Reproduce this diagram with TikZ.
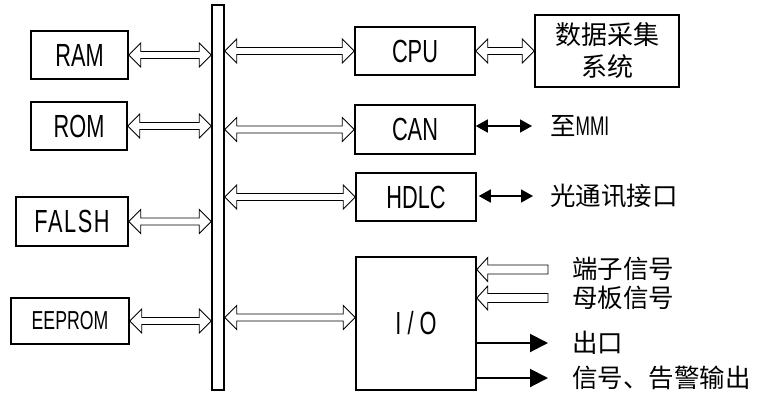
\documentclass[tikz,border=0pt]{standalone}
\usepackage{fontspec}
\setmainfont[FakeStretch=0.68]{Liberation Sans}
\newfontfamily\cjk{Noto Sans CJK SC}
\newfontfamily\latn[FakeStretch=0.64]{Liberation Sans}
\usetikzlibrary{calc,arrows.meta}
\newcommand\hdarrow[2]{\draw[hollow] let \p1=#1, \p2=#2 in
  (\x1,\y1) -- (\x1+12pt,\y1+12pt) -- (\x1+12pt,\y1+3.5pt) -- (\x2-12pt,\y1+3.5pt) -- (\x2-12pt,\y1+12pt)
  -- (\x2,\y1) -- (\x2-12pt,\y1-12pt) -- (\x2-12pt,\y1-3.5pt) -- (\x1+12pt,\y1-3.5pt) -- (\x1+12pt,\y1-12pt) -- cycle;}
\newcommand\hsarrow[2]{\draw[hollow] let \p1=#1, \p2=#2 in
  (\x1,\y1) -- (\x1+11pt,\y1+12pt) -- (\x1+11pt,\y1+4.5pt) -- (\x2,\y1+4.5pt) -- (\x2,\y1-4.5pt)
  -- (\x1+11pt,\y1-4.5pt) -- (\x1+11pt,\y1-12pt) -- cycle;}
\begin{document}
\begin{tikzpicture}[x=1pt,y=-1pt,
  box/.style={draw, line width=1.5pt, inner sep=0pt, font=\fontsize{32}{32}\selectfont},
  hollow/.style={draw, line width=0.9pt, line join=miter, fill=white},
  lbl/.style={anchor=west, inner sep=0pt, font=\cjk\fontsize{25.5}{32}\selectfont},
  smallarr/.style={line width=1.6pt, {Triangle[length=12pt,width=13pt]}-{Triangle[length=12pt,width=13pt]}},
  outarr/.style={line width=2pt, -{Triangle[length=18pt,width=18pt]}}]
\useasboundingbox (0,0) rectangle (757,392);

\node[box, minimum width=97pt, minimum height=48pt] (ram) at (79.5,55) {RAM};
\node[box, minimum width=96pt, minimum height=48pt] (rom) at (79,126) {ROM};
\node[box, minimum width=112pt, minimum height=49pt] (flash) at (72,221.5) {\addfontfeature{LetterSpace=5}FALSH};
\node[box, minimum width=118pt, minimum height=46pt, font=\fontsize{26}{26}\selectfont] (eeprom) at (70,321) {EEPROM};
\node[draw, line width=1.5pt, minimum width=12pt, minimum height=385pt, inner sep=0pt] (bus) at (218,197.5) {};

\node[box, minimum width=120pt, minimum height=48pt] (cpu) at (415,51) {CPU};
\node[box, minimum width=120pt, minimum height=49pt] (can) at (415,129.5) {CAN};
\node[box, minimum width=120pt, minimum height=48pt] (hdlc) at (416,197) {HDLC};
\node[box, minimum width=120pt, minimum height=133pt] (io) at (416,323.5) {I\hspace{6pt}/\hspace{6pt}O};
\node[box, minimum width=144pt, minimum height=72pt, align=center, font=\cjk\fontsize{26}{32}\selectfont] (daq) at (607,51) {数据采集\\系统};

% hollow bus arrows
\hdarrow{(ram.east)}{(bus.west|-ram.east)}
\hdarrow{(rom.east)}{(bus.west|-rom.east)}
\hdarrow{(flash.east)}{(bus.west|-flash.east)}
\hdarrow{(eeprom.east)}{(bus.west|-eeprom.east)}
\hdarrow{(bus.east|-cpu.west)}{(cpu.west)}
\hdarrow{(bus.east|-can.west)}{($(can.west)+(0,-3)$)}
\hdarrow{(bus.east|-hdlc.west)}{(hdlc.west)}
\coordinate (iol) at ($(io.west)+(0,-6)$);
\hdarrow{(bus.east|-iol)}{(iol)}
\hdarrow{(cpu.east)}{(daq.west|-cpu.east)}

% CAN / HDLC
\node[lbl] (mmi) at (550,126) {至{\latn\fontsize{27}{27}\selectfont MMI}};
\node[lbl] (opt) at (550,196) {光通讯接口};
\coordinate (canr) at (532,126);
\coordinate (hdlcr) at (533,196);
\draw[smallarr] (can.east|-canr) -- (canr);
\draw[smallarr] ($(hdlc.east|-hdlcr)+(2,0)$) -- (hdlcr);

% I/O signals
\node[lbl] (t1) at (572,269) {端子信号};
\node[lbl] (t2) at (572,298) {母板信号};
\node[lbl] (t3) at (572,343) {出口};
\node[lbl] (t4) at (572,378) {信号、告警输出};
\coordinate (s1) at (548,269.5);
\coordinate (s2) at (548,298);
\coordinate (o1) at (548,343);
\coordinate (o2) at (548,378);
\hsarrow{(io.east|-s1)}{(s1)}
\hsarrow{(io.east|-s2)}{(s2)}
\draw[outarr] (io.east|-o1) -- (o1);
\draw[outarr] (io.east|-o2) -- (o2);
\end{tikzpicture}
\end{document}
